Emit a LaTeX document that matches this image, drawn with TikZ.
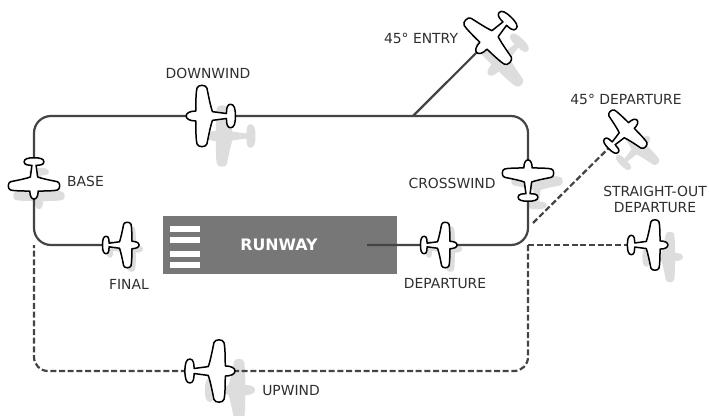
\documentclass[tikz,border=0pt]{standalone}
\usepackage{fontspec}
\setmainfont{DejaVu Sans}
\definecolor{lineC}{HTML}{444444}
\definecolor{shadowC}{HTML}{DDDDDD}
\definecolor{runwayC}{HTML}{777777}
\definecolor{textC}{HTML}{2F2F2F}
\newcommand{\planeoutline}{
  (0.35,0) .. controls (0.35,0.10) and (0.22,0.16) .. (0.04,0.16)
  .. controls (0.04,0.50) and (0.03,0.80) .. (0.00,0.90)
  .. controls (-0.03,1.02) and (-0.29,1.02) .. (-0.32,0.90)
  .. controls (-0.38,0.60) and (-0.44,0.30) .. (-0.50,0.14)
  -- (-0.95,0.08)
  .. controls (-0.95,0.20) and (-0.96,0.38) .. (-1.08,0.38)
  .. controls (-1.20,0.38) and (-1.24,0.24) .. (-1.24,0)
  .. controls (-1.24,-0.24) and (-1.20,-0.38) .. (-1.08,-0.38)
  .. controls (-0.96,-0.38) and (-0.95,-0.20) .. (-0.95,-0.08)
  -- (-0.50,-0.14)
  .. controls (-0.44,-0.30) and (-0.38,-0.60) .. (-0.32,-0.90)
  .. controls (-0.29,-1.02) and (-0.03,-1.02) .. (0.00,-0.90)
  .. controls (0.03,-0.80) and (0.04,-0.50) .. (0.04,-0.16)
  .. controls (0.22,-0.16) and (0.35,-0.10) .. (0.35,0) -- cycle}
\tikzset{
  planeicon/.pic={\draw[x=\planescale pt,y=\planescale pt,rotate=\planeangle,fill=white,draw=black,line width=1.5pt,line join=round] \planeoutline;},
  planeshade/.pic={\fill[x=\planescale pt,y=\planescale pt,rotate=\planeangle,fill=shadowC] \planeoutline;},
  pathsolid/.style={draw=lineC,line width=2.2pt},
  pathdash/.style={draw=lineC,line width=2.2pt,dash pattern=on 6pt off 2.7pt},
  lbl/.style={text=textC,font=\fontsize{13.9}{16}\selectfont,inner sep=0pt,align=center}
}
\begin{document}
\begin{tikzpicture}[x=1pt,y=-1pt]
\useasboundingbox[fill=white] (0,0) rectangle (709,415);
% shadows
\def\planescale{31}\def\planeangle{180}\pic at (217,136) {planeshade};
\def\planescale{26}\def\planeangle{270}\pic at (39,200) {planeshade};
\def\planescale{23}\def\planeangle{0}\pic at (135,249) {planeshade};
\def\planescale{23}\def\planeangle{0}\pic at (454,249) {planeshade};
\def\planescale{26}\def\planeangle{90}\pic at (537,177) {planeshade};
\def\planescale{25.5}\def\planeangle{0}\pic at (674,257) {planeshade};
\def\planescale{31.5}\def\planeangle{0}\pic at (244,390) {planeshade};
\def\planescale{31}\def\planeangle{226}\pic at (496,67) {planeshade};
\def\planescale{25.3}\def\planeangle{45}\pic at (643,143) {planeshade};
% runway
\node[fill=runwayC,draw=none,minimum width=234pt,minimum height=58pt,inner sep=0pt] (runway) at (280,245) {};
\foreach \yy in {229,240,254,265}
  \fill[white] (170,\yy-3) rectangle (200,\yy+3);
\node[text=white,font=\fontsize{15.8}{18}\bfseries\selectfont,inner sep=0pt] (runwaylabel) at (279,245) {RUNWAY};
% plane positions and corners
\coordinate (pDown) at (197,116);
\coordinate (pBase) at (34,190);
\coordinate (pFinal) at (131,245);
\coordinate (pDep) at (449,245);
\coordinate (pCross) at (528,169);
\coordinate (pStraight) at (659,245);
\coordinate (pUp) at (224,371);
\coordinate (pEntry) at (484.3,44.8);
\coordinate (pDep45) at (630.7,126.3);
\coordinate (rwyEnd) at (367,245);
\coordinate (cTR) at (528,116);
\coordinate (cTL) at (34,116);
\coordinate (cBL) at (34,245);
\coordinate (cBR) at (528,245);
\coordinate (dBR) at (528,371);
\coordinate (dBL) at (34,371);
\coordinate (entryJoin) at (413,116);
\coordinate (diagStart) at (533,223);
% connectors
\draw[pathdash,rounded corners=14pt] (cBR) -- (dBR) -- (dBL) -- (cBL);
\draw[pathdash] (cBR) -- (pStraight);
\draw[pathdash] (diagStart) -- (pDep45);
\draw[pathsolid,rounded corners=17pt] (rwyEnd) -- (cBR) -- (cTR) -- (cTL) -- (cBL) -- (pFinal);
\draw[pathsolid] (entryJoin) -- (pEntry);
% planes
\def\planescale{31}\def\planeangle{180}\pic at (pDown) {planeicon};
\def\planescale{26}\def\planeangle{270}\pic at (pBase) {planeicon};
\def\planescale{23}\def\planeangle{0}\pic at (pFinal) {planeicon};
\def\planescale{23}\def\planeangle{0}\pic at (pDep) {planeicon};
\def\planescale{26}\def\planeangle{90}\pic at (pCross) {planeicon};
\def\planescale{25.5}\def\planeangle{0}\pic at (pStraight) {planeicon};
\def\planescale{31.5}\def\planeangle{0}\pic at (pUp) {planeicon};
\def\planescale{31}\def\planeangle{226}\pic at (pEntry) {planeicon};
\def\planescale{25.3}\def\planeangle{45}\pic at (pDep45) {planeicon};
% labels
\node[lbl] (lDown) at (208,73) {DOWNWIND};
\node[lbl] (lEntry) at (421,38) {45° ENTRY};
\node[lbl] (lBase) at (85.5,181) {BASE};
\node[lbl] (lCross) at (452,183) {CROSSWIND};
\node[lbl] (lDep45) at (626,99) {45° DEPARTURE};
\node[lbl] (lStraight) at (655,199.5) {STRAIGHT-OUT\\DEPARTURE};
\node[lbl] (lDep) at (445,283.5) {DEPARTURE};
\node[lbl] (lFinal) at (129,284) {FINAL};
\node[lbl] (lUp) at (291,390.5) {UPWIND};
\end{tikzpicture}
\end{document}
